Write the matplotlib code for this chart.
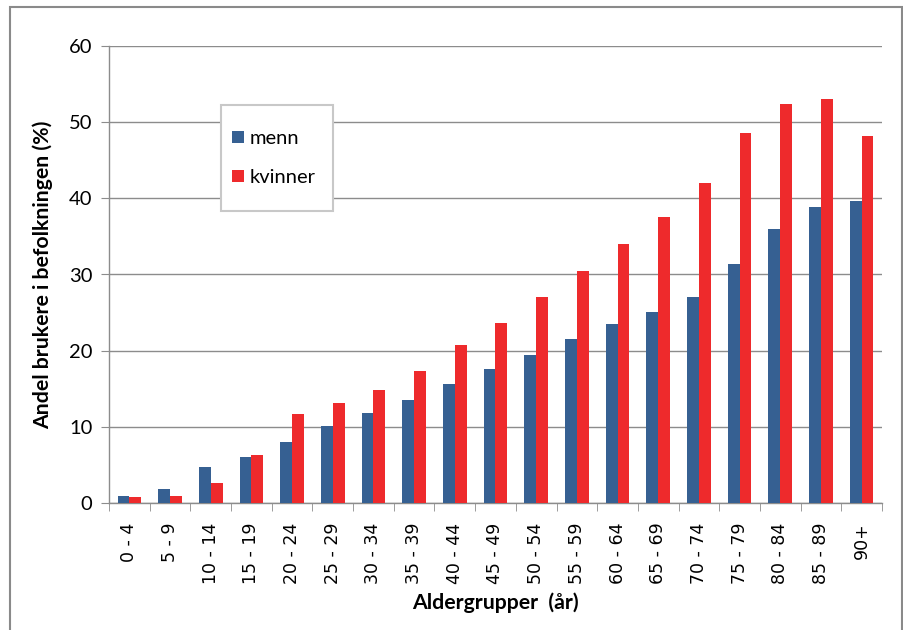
import matplotlib.pyplot as plt
import numpy as np
from matplotlib.patches import Rectangle

# andel brukere (%) per aldersgruppe
groups = ['0 - 4', '5 - 9', '10 - 14', '15 - 19', '20 - 24', '25 - 29', '30 - 34',
          '35 - 39', '40 - 44', '45 - 49', '50 - 54', '55 - 59', '60 - 64', '65 - 69',
          '70 - 74', '75 - 79', '80 - 84', '85 - 89', '90+']
menn = [1.0, 1.9, 4.7, 6.1, 8.1, 10.2, 11.8, 13.6, 15.6, 17.6, 19.4, 21.5,
        23.5, 25.1, 27.0, 31.4, 36.0, 38.9, 39.6]
kvinner = [0.8, 1.0, 2.6, 6.3, 11.7, 13.2, 14.8, 17.4, 20.7, 23.7, 27.0, 30.5,
           34.0, 37.6, 42.0, 48.6, 52.3, 53.0, 48.1]

blue = '#366092'
red = '#ee2a2c'
grey = '#8c8c8c'

fig = plt.figure(figsize=(9.04, 6.30), dpi=100)
# outer frame (bottom edge lies outside the image)
fig.patches.append(Rectangle((10/904, -0.05), 892/904, 1.05 - 7/630,
                             transform=fig.transFigure, fill=False,
                             edgecolor='#8a8a8a', lw=1.5))

ax = fig.add_axes([109/904, 1 - 503.3/630, 773/904, 457.6/630])
x = np.arange(len(groups))
w = 0.29
ax.bar(x - w/2, menn, w, color=blue, label='menn', zorder=3)
ax.bar(x + w/2, kvinner, w, color=red, label='kvinner', zorder=3)

ax.set_xlim(-0.5, len(groups) - 0.5)
ax.set_ylim(0, 60)
ax.set_yticks(range(0, 61, 10))
ax.yaxis.grid(True, color=grey, lw=1)
ax.set_axisbelow(True)
for s in ['top', 'right']:
    ax.spines[s].set_visible(False)
for s in ['left', 'bottom']:
    ax.spines[s].set_color(grey)
    ax.spines[s].set_linewidth(1)

ax.set_xticks(x)
ax.set_xticklabels(groups, rotation=90, fontsize=12.5, family='DejaVu Sans')
ax.set_xticks(np.arange(-0.5, len(groups)), minor=True)
ax.tick_params(axis='x', which='major', length=0, pad=14)
ax.tick_params(axis='x', which='minor', length=6, color=grey)
ax.tick_params(axis='y', length=6, color=grey, labelsize=14.5, pad=6)
for t in ax.get_yticklabels():
    t.set_family('Lato')

ax.set_ylabel('Andel brukere i befolkningen (%)', fontsize=15.3,
              fontweight='bold', family='Lato', labelpad=11)
ax.set_xlabel('Aldergrupper  (år)', fontsize=15.3, fontweight='bold',
              family='Lato', labelpad=6)

# legend box drawn separately (Excel-style padding)
ax.add_patch(Rectangle((112/773, (503.3-211)/457.6), 112/773, 106/457.6,
                       transform=ax.transAxes, facecolor='white',
                       edgecolor='#c8c8c8', lw=1.5, zorder=4))
leg = ax.legend(loc='upper left', bbox_to_anchor=(123/773, (503.3-130)/457.6),
                prop={'family': 'Lato', 'size': 14.5}, frameon=False,
                handlelength=0.6, handleheight=0.6, handletextpad=0.3,
                labelspacing=1.1, borderpad=0, borderaxespad=0)
leg.set_zorder(5)

fig.savefig('out.png', dpi=100)
